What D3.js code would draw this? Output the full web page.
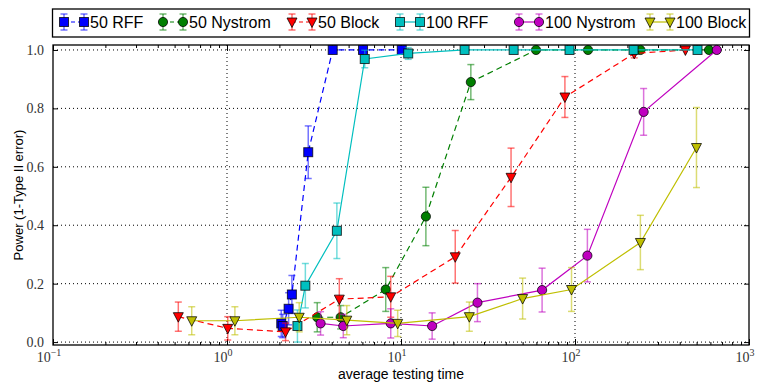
<!DOCTYPE html>
<html>
<head>
<meta charset="utf-8">
<script src="https://cdn.jsdelivr.net/npm/d3@7"></script>
<style>
  body { margin: 0; background: #fff; }
  svg { display: block; }
</style>
</head>
<body>
<div id="graphe"></div>
<script>
//----------------------------------------------------------------
//  Données (temps moyen de test / puissance)
//----------------------------------------------------------------
var nomsSeries = ["50 RFF", "50 Nystrom", "50 Block", "100 RFF", "100 Nystrom", "100 Block"];

var temps50RFF = [2.05, 2.09, 2.26, 2.36, 2.93, 4.05, 6.05, 10.1];
var puiss50RFF = [0.064, 0.055, 0.114, 0.163, 0.65, 1.0, 1.0, 1.0];
var err50RFF   = [0.045, 0.04, 0.055, 0.065, 0.09, 0, 0, 0];

var temps50Nys = [3.30, 4.50, 8.17, 13.9, 25.2, 59.7, 118.8, 237.6, 589];
var puiss50Nys = [0.085, 0.085, 0.18, 0.43, 0.89, 1.0, 1.0, 1.0, 1.0];
var err50Nys   = [0.05, 0.04, 0.075, 0.1, 0.06, 0, 0, 0, 0];

var temps50Blk = [0.525, 1.01, 2.17, 4.42, 8.73, 20.5, 42.9, 87.5, 219, 431];
var puiss50Blk = [0.087, 0.047, 0.035, 0.147, 0.155, 0.292, 0.564, 0.839, 0.988, 1.0];
var err50Blk   = [0.05, 0.04, 0.03, 0.07, 0.07, 0.09, 0.1, 0.07, 0.015, 0];

var temps100RFF = [2.54, 2.82, 4.28, 6.19, 11.0, 23.2, 44.4, 93, 217, 506];
var puiss100RFF = [0.055, 0.193, 0.381, 0.969, 0.988, 1.0, 1.0, 1.0, 1.0, 1.0];
var err100RFF   = [0.055, 0.076, 0.095, 0.03, 0.02, 0, 0, 0, 0, 0];

var temps100Nys = [3.45, 4.66, 8.73, 15.1, 27.5, 64.7, 117.8, 248, 653];
var puiss100Nys = [0.064, 0.055, 0.064, 0.055, 0.135, 0.178, 0.296, 0.788, 1.0];
var err100Nys   = [0.04, 0.04, 0.05, 0.045, 0.065, 0.075, 0.09, 0.08, 0];

var temps100Blk = [0.627, 1.11, 2.60, 4.88, 9.57, 24.7, 50.0, 95.5, 237.6, 499];
var puiss100Blk = [0.073, 0.073, 0.085, 0.075, 0.064, 0.087, 0.149, 0.18, 0.341, 0.666];
var err100Blk   = [0.048, 0.048, 0.05, 0.05, 0.045, 0.05, 0.07, 0.075, 0.093, 0.137];

var ticksX = [0.1, 1, 10, 100, 1000];
var exposantsX = ["\u22121", "0", "1", "2", "3"];
var ticksY = [0, 0.2, 0.4, 0.6, 0.8, 1.0];

//----------------------------------------------------------------
//  Styles de chaque série (couleur, marqueur, tirets)
//----------------------------------------------------------------
var couleurs = ["#0000ff", "#007f00", "#ff0000", "#00bfbf", "#bf00bf", "#bfbf00"];
var marqueurs = ["carre", "rond", "triangle", "carre", "rond", "triangle"];
var tirets = ["6,4", "6,4", "6,4", null, null, null];
// position horizontale de chaque entrée de la légende
var posLegende = [64, 163, 292, 400, 519, 650];

function serie(t, p, e) {
    return t.map(function(d, i) { return {t: d, p: p[i], e: e[i]}; });
}
var series = [
    serie(temps50RFF, puiss50RFF, err50RFF),
    serie(temps50Nys, puiss50Nys, err50Nys),
    serie(temps50Blk, puiss50Blk, err50Blk),
    serie(temps100RFF, puiss100RFF, err100RFF),
    serie(temps100Nys, puiss100Nys, err100Nys),
    serie(temps100Blk, puiss100Blk, err100Blk)
];

//----------------------------------------------------------------
//  Création du svg
//----------------------------------------------------------------
largeurSvg = 759; hauteurSvg = 383;
var zone = {gauche: 53, droite: 749, haut: 45, bas: 345};

var svg = d3.select("#graphe").append("svg")
    .attr("width", largeurSvg)
    .attr("height", hauteurSvg);

var x = d3.scaleLog().domain([0.1, 1000]).range([zone.gauche, zone.droite]);
var y = d3.scaleLinear().domain([-0.01, 1.017]).range([zone.bas, zone.haut]);

// grille pointillée
var grille = svg.append("g");
grille.selectAll("line.gx")
    .data([1, 10, 100])
    .enter().append("line")
        .attr("x1", function(d) { return x(d); })
        .attr("x2", function(d) { return x(d); })
        .attr("y1", zone.haut).attr("y2", zone.bas)
        .attr("stroke", "#000").attr("stroke-dasharray", "1,3");
grille.selectAll("line.gy")
    .data(ticksY)
    .enter().append("line")
        .attr("x1", zone.gauche).attr("x2", zone.droite)
        .attr("y1", function(d) { return y(d); })
        .attr("y2", function(d) { return y(d); })
        .attr("stroke", "#000").attr("stroke-dasharray", "1,3");

// axes (ticks vers l'intérieur, en bas/haut et gauche/droite)
var mineurs = [];
for (var dec = 0.1; dec < 1000; dec *= 10) {
    for (var k = 2; k < 10; k++) mineurs.push(dec * k);
}
svg.append("g").attr("transform", "translate(0," + zone.bas + ")")
    .call(d3.axisBottom(x).tickValues(mineurs).tickSize(-3).tickFormat(""));
svg.append("g").attr("transform", "translate(0," + zone.haut + ")")
    .call(d3.axisTop(x).tickValues(mineurs).tickSize(-3).tickFormat(""));
svg.append("g").attr("transform", "translate(0," + zone.bas + ")")
    .call(d3.axisBottom(x).tickValues(ticksX).tickSize(-6).tickFormat(""));
svg.append("g").attr("transform", "translate(0," + zone.haut + ")")
    .call(d3.axisTop(x).tickValues(ticksX).tickSize(-6).tickFormat(""));
svg.append("g").attr("transform", "translate(" + zone.gauche + ",0)")
    .call(d3.axisLeft(y).tickValues(ticksY).tickSize(-5).tickPadding(9).tickFormat(d3.format(".1f")));
svg.append("g").attr("transform", "translate(" + zone.droite + ",0)")
    .call(d3.axisRight(y).tickValues(ticksY).tickSize(-5).tickFormat(""));

svg.selectAll(".domain").remove();
svg.selectAll(".tick line").attr("stroke", "#000");
svg.selectAll(".tick text")
    .attr("font-family", "'Liberation Serif', 'DejaVu Serif', serif")
    .attr("font-size", 14).attr("fill", "#333");

// étiquettes 10^n
var etiquettesX = svg.append("g");
etiquettesX.selectAll("text")
    .data(ticksX)
    .enter().append("text")
        .attr("x", function(d) { return x(d) - 4; })
        .attr("y", 362)
        .attr("text-anchor", "middle")
        .attr("font-family", "'Liberation Serif', 'DejaVu Serif', serif")
        .attr("font-size", 14).attr("fill", "#333")
        .each(function(d, i) {
            var t = d3.select(this);
            t.append("tspan").text("10");
            t.append("tspan").attr("dy", -6).attr("font-size", 10).text(exposantsX[i]);
        });

// cadre
svg.append("rect")
    .attr("x", zone.gauche).attr("y", zone.haut)
    .attr("width", zone.droite - zone.gauche).attr("height", zone.bas - zone.haut)
    .attr("fill", "none").attr("stroke", "#000").attr("stroke-width", 1.3);

// titres des axes
svg.append("text")
    .attr("x", (zone.gauche + zone.droite) / 2).attr("y", 379)
    .attr("text-anchor", "middle")
    .attr("font-family", "'Liberation Sans', Arial, sans-serif").attr("font-size", 14)
    .text("average testing time");
svg.append("text")
    .attr("transform", "translate(23," + ((zone.haut + zone.bas) / 2) + ") rotate(-90)")
    .attr("text-anchor", "middle")
    .attr("font-family", "'Liberation Sans', Arial, sans-serif").attr("font-size", 13)
    .text("Power (1-Type II error)");

//----------------------------------------------------------------
//  Dessin d'un marqueur
//----------------------------------------------------------------
function dessinerMarqueur(g, type, cx, cy, couleur) {
    var m;
    if (type == "carre") {
        m = g.append("rect").attr("x", cx - 4.5).attr("y", cy - 4.5)
            .attr("width", 9).attr("height", 9);
    } else if (type == "rond") {
        m = g.append("circle").attr("cx", cx).attr("cy", cy).attr("r", 4.6);
    } else {
        m = g.append("path")
            .attr("d", "M" + (cx - 5) + "," + (cy - 4) + "L" + (cx + 5) + "," + (cy - 4) + "L" + cx + "," + (cy + 5.5) + "Z");
    }
    m.attr("fill", couleur).attr("stroke", "#000").attr("stroke-opacity", 0.75).attr("stroke-width", 1);
}

function barreErreur(g, cx, y1, y2, couleur) {
    g.append("line").attr("x1", cx).attr("x2", cx).attr("y1", y1).attr("y2", y2);
    g.append("line").attr("x1", cx - 3.5).attr("x2", cx + 3.5).attr("y1", y1).attr("y2", y1);
    g.append("line").attr("x1", cx - 3.5).attr("x2", cx + 3.5).attr("y1", y2).attr("y2", y2);
    g.selectAll("line").attr("stroke", couleur).attr("stroke-opacity", 0.55).attr("stroke-width", 1.5);
}

//----------------------------------------------------------------
//  Les séries : ligne, barres d'erreur, marqueurs
//----------------------------------------------------------------
var ligne = d3.line()
    .x(function(d) { return x(d.t); })
    .y(function(d) { return y(d.p); });

var traces = svg.append("g");
series.forEach(function(donnees, s) {
    var g = traces.append("g");
    g.append("path")
        .datum(donnees)
        .attr("d", ligne)
        .attr("fill", "none")
        .attr("stroke", couleurs[s])
        .attr("stroke-width", 1.2)
        .attr("stroke-dasharray", tirets[s]);
    donnees.forEach(function(d) {
        if (d.e > 0) barreErreur(g.append("g"), x(d.t), y(d.p + d.e), y(d.p - d.e), couleurs[s]);
    });
    donnees.forEach(function(d) {
        dessinerMarqueur(g, marqueurs[s], x(d.t), y(d.p), couleurs[s]);
    });
});

//----------------------------------------------------------------
//  Légende
//----------------------------------------------------------------
var legende = svg.append("g");
legende.append("rect")
    .attr("x", 52.5).attr("y", 9).attr("width", 697).attr("height", 28)
    .attr("fill", "#fff").attr("stroke", "#000").attr("stroke-width", 1.3);

var yLeg = 22;
nomsSeries.forEach(function(nom, s) {
    var xLeg = posLegende[s];
    var g = legende.append("g");
    g.append("line")
        .attr("x1", xLeg).attr("x2", xLeg + 20).attr("y1", yLeg).attr("y2", yLeg)
        .attr("stroke", couleurs[s]).attr("stroke-width", 1.2)
        .attr("stroke-dasharray", tirets[s] ? "4,3" : null);
    [xLeg, xLeg + 20].forEach(function(cx) {
        barreErreur(g.append("g"), cx, yLeg - 8, yLeg + 8, couleurs[s]);
        dessinerMarqueur(g, marqueurs[s], cx, yLeg, couleurs[s]);
    });
    g.append("text")
        .attr("x", xLeg + 26).attr("y", yLeg + 6)
        .attr("font-family", "'Liberation Sans', Arial, sans-serif").attr("font-size", 16)
        .text(nom);
});
</script>
</body>
</html>
